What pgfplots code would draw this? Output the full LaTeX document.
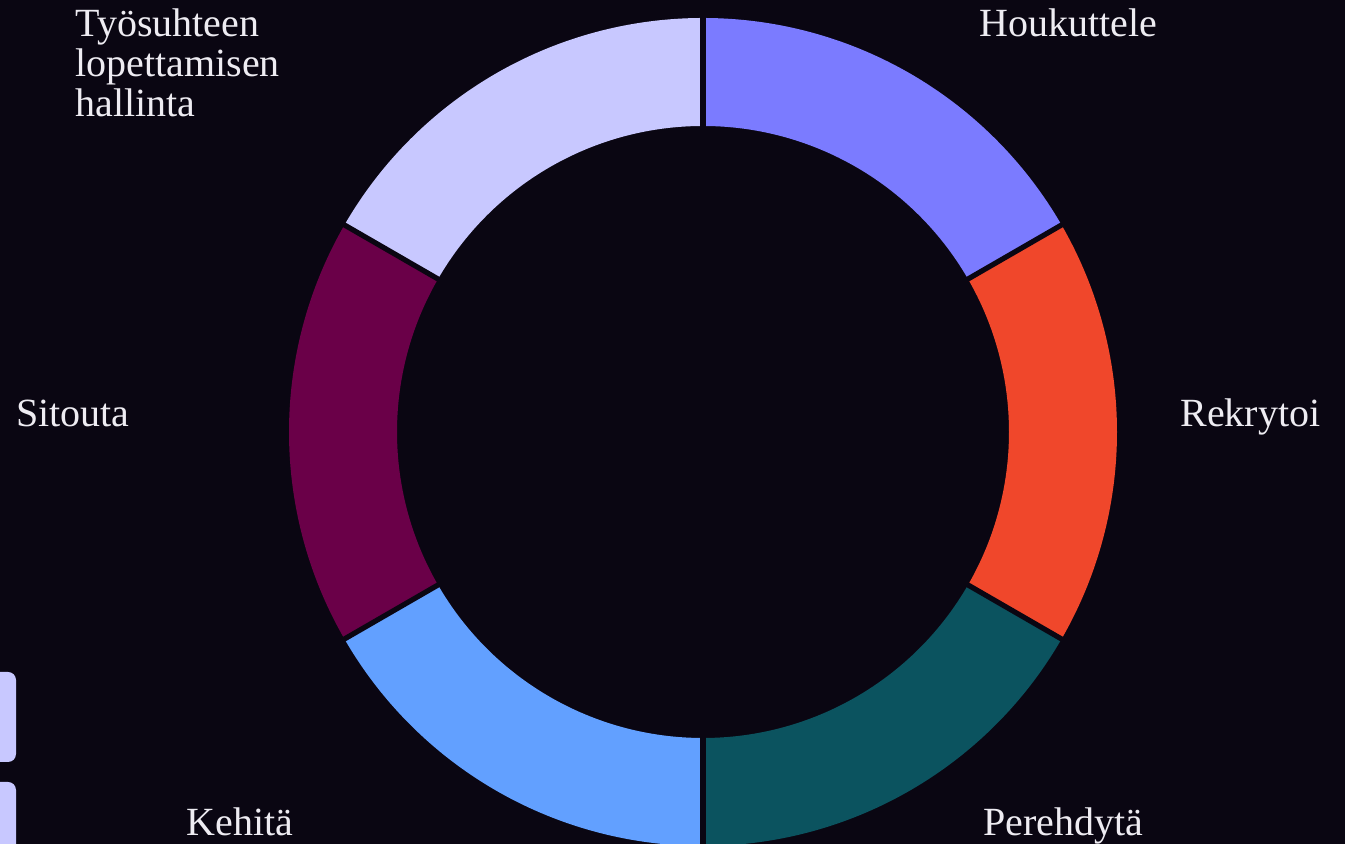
\documentclass[border=0pt]{standalone}
\usepackage{pgfplots}
\pgfplotsset{compat=1.18}
\usepackage{pgfplotstable}
\usepackage{fontspec}
\setmainfont{Liberation Serif}
\definecolor{bg}{HTML}{0A0612}
\definecolor{seg0}{HTML}{7B7BFF}
\definecolor{seg1}{HTML}{F0472B}
\definecolor{seg2}{HTML}{0B535F}
\definecolor{seg3}{HTML}{62A0FF}
\definecolor{seg4}{HTML}{6A0048}
\definecolor{seg5}{HTML}{C8C8FF}
\definecolor{txt}{HTML}{EEECF2}
\pgfplotstableread{
id value
0 1
1 1
2 1
3 1
4 1
5 1
}\donutdata
\begin{document}
\begin{tikzpicture}
\begin{axis}[x=0.5pt, y=0.5pt, xmin=0, xmax=1345, ymin=0, ymax=844,
  hide axis, clip=true]
\fill[bg] (axis cs:-10,-10) rectangle (axis cs:1355,854);
\coordinate (bl) at (axis cs:0,0);
\coordinate (tr) at (axis cs:1345,844);
\pgfplotstablegetrowsof{\donutdata}
\pgfmathtruncatemacro{\nlast}{\pgfplotsretval-1}
\def\total{0}
\pgfplotsforeachungrouped \i in {0,...,\nlast}{%
  \pgfplotstablegetelem{\i}{value}\of{\donutdata}%
  \pgfmathsetmacro{\total}{\total+\pgfplotsretval}%
}
\def\cum{0}
\pgfplotsforeachungrouped \i in {0,...,\nlast}{%
  \pgfplotstablegetelem{\i}{value}\of{\donutdata}%
  \pgfmathsetmacro{\a}{90-360*\cum/\total}%
  \pgfmathsetmacro{\cum}{\cum+\pgfplotsretval}%
  \pgfmathsetmacro{\b}{90-360*\cum/\total}%
  \pgfmathsetmacro{\xa}{703+414*cos(\a)}%
  \pgfmathsetmacro{\ya}{412+414*sin(\a)}%
  \pgfmathsetmacro{\xb}{703+306*cos(\b)}%
  \pgfmathsetmacro{\yb}{412+306*sin(\b)}%
  \edef\tmp{\noexpand\fill[seg\i] (axis cs:\xa,\ya) arc[start angle=\a, end angle=\b, radius=414] -- (axis cs:\xb,\yb) arc[start angle=\b, end angle=\a, radius=306] -- cycle;}%
  \tmp
}
\def\cum{0}
\pgfplotsforeachungrouped \i in {0,...,\nlast}{%
  \pgfplotstablegetelem{\i}{value}\of{\donutdata}%
  \pgfmathsetmacro{\a}{90-360*\cum/\total}%
  \pgfmathsetmacro{\cum}{\cum+\pgfplotsretval}%
  \pgfmathsetmacro{\xa}{703+300*cos(\a)}%
  \pgfmathsetmacro{\ya}{412+300*sin(\a)}%
  \pgfmathsetmacro{\xb}{703+422*cos(\a)}%
  \pgfmathsetmacro{\yb}{412+422*sin(\a)}%
  \edef\tmp{\noexpand\draw[bg, line width=2.6pt] (axis cs:\xa,\ya) -- (axis cs:\xb,\yb);}%
  \tmp
}
\fill[seg5, rounded corners=4pt] (axis cs:-20,82) rectangle (axis cs:16,172);
\fill[seg5, rounded corners=4pt] (axis cs:-20,-40) rectangle (axis cs:16,62);
\begin{scope}[every node/.style={text=txt, inner sep=0pt, anchor=base west, font=\fontsize{20}{20}\selectfont}]
\node at (axis cs:979,807) {Houkuttele};
\node at (axis cs:1180,417) {Rekrytoi};
\node at (axis cs:983,8) {Perehdytä};
\node at (axis cs:186,8) {Kehitä};
\node at (axis cs:16,417) {Sitouta};
\node at (axis cs:75,807) {Työsuhteen};
\node at (axis cs:75,767) {lopettamisen};
\node at (axis cs:75,727) {hallinta};
\end{scope}
\end{axis}
\pgfresetboundingbox
\path[use as bounding box] (bl) rectangle (tr);
\end{tikzpicture}
\end{document}
